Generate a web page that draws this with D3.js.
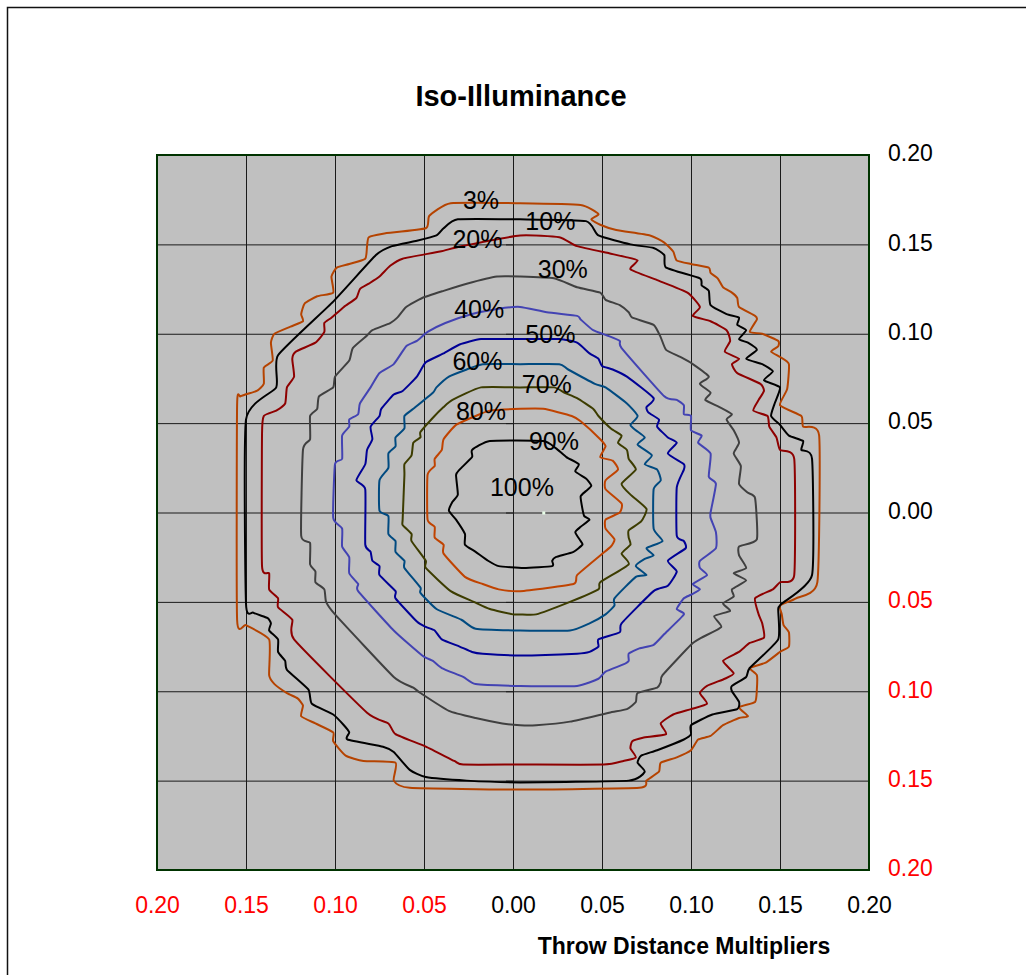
<!DOCTYPE html>
<html>
<head>
<meta charset="utf-8">
<script src="https://cdn.jsdelivr.net/npm/d3@7"></script>
<style>
  body { margin: 0; background: #fff; }
  svg { display: block; font-family: "Liberation Sans", Arial, sans-serif; }
</style>
</head>
<body>
<div id="chart"></div>
<script>

// ======================= //
// DATA
// ======================= //

// contour levels, outermost first
var levels = ["3%", "10%", "20%", "30%", "40%", "50%", "60%", "70%", "80%", "90%"]

// each contour = closed list of [x, y] points (throw distance multipliers)
var iso3 = [[0.004,0.173],[-0.035,0.173],[-0.047,0.166],[-0.049,0.159],[-0.073,0.156],[-0.081,0.154],[-0.082,0.149],[-0.083,0.142],[-0.092,0.139],[-0.099,0.137],[-0.102,0.132],[-0.101,0.123],[-0.110,0.121],[-0.117,0.117],[-0.119,0.111],[-0.118,0.107],[-0.125,0.104],[-0.134,0.100],[-0.136,0.095],[-0.135,0.085],[-0.140,0.081],[-0.140,0.072],[-0.144,0.068],[-0.153,0.065],[-0.155,0.060],
  [-0.155,-0.060],[-0.150,-0.063],[-0.137,-0.071],[-0.137,-0.091],[-0.134,-0.096],[-0.127,-0.101],[-0.121,-0.104],[-0.118,-0.108],[-0.119,-0.114],[-0.111,-0.118],[-0.101,-0.123],[-0.101,-0.128],[-0.094,-0.136],[-0.084,-0.139],[-0.066,-0.140],[-0.067,-0.150],[-0.058,-0.154],[0.004,-0.155],
  [0.071,-0.154],[0.075,-0.150],[0.082,-0.145],[0.083,-0.140],[0.092,-0.137],[0.100,-0.133],[0.104,-0.127],[0.111,-0.125],[0.118,-0.119],[0.127,-0.115],[0.132,-0.114],[0.127,-0.109],[0.136,-0.106],[0.137,-0.099],[0.137,-0.091],[0.133,-0.087],[0.142,-0.084],[0.150,-0.078],[0.155,-0.075],[0.155,-0.067],[0.152,-0.063],[0.151,-0.057],[0.150,-0.052],[0.159,-0.048],[0.171,-0.039],
  [0.172,0.043],[0.163,0.048],[0.162,0.054],[0.150,0.060],[0.154,0.069],[0.155,0.083],[0.150,0.087],[0.145,0.090],[0.149,0.093],[0.149,0.096],[0.140,0.100],[0.133,0.101],[0.137,0.108],[0.136,0.110],[0.127,0.115],[0.126,0.120],[0.123,0.123],[0.118,0.126],[0.115,0.131],[0.111,0.134],[0.110,0.137],[0.100,0.139],[0.092,0.141],[0.090,0.146],[0.085,0.151],[0.077,0.155],[0.058,0.158],[0.049,0.161],[0.044,0.164],[0.048,0.167],[0.038,0.172]]

var iso10 = [[0.004,0.164],[-0.031,0.164],[-0.039,0.159],[-0.043,0.155],[-0.054,0.152],[-0.068,0.149],[-0.077,0.144],[-0.101,0.118],[-0.132,0.088],[-0.133,0.070],[-0.150,0.052],
  [-0.150,-0.051],[-0.146,-0.056],[-0.138,-0.059],[-0.136,-0.062],[-0.137,-0.066],[-0.132,-0.071],[-0.132,-0.078],[-0.128,-0.083],[-0.127,-0.088],[-0.115,-0.099],[-0.113,-0.107],[-0.101,-0.113],[-0.095,-0.119],[-0.092,-0.123],[-0.093,-0.127],[-0.073,-0.131],[-0.067,-0.134],[-0.058,-0.144],[-0.049,-0.148],[-0.026,-0.150],[0.004,-0.151],
  [0.065,-0.150],[0.074,-0.145],[0.070,-0.140],[0.072,-0.136],[0.081,-0.133],[0.096,-0.127],[0.100,-0.124],[0.100,-0.119],[0.112,-0.113],[0.126,-0.110],[0.127,-0.106],[0.123,-0.100],[0.123,-0.097],[0.131,-0.092],[0.133,-0.087],[0.149,-0.071],[0.149,-0.054],[0.151,-0.051],[0.168,-0.035],
  [0.168,0.030],[0.162,0.035],[0.163,0.040],[0.155,0.043],[0.150,0.049],[0.145,0.054],[0.147,0.061],[0.150,0.070],[0.141,0.074],[0.146,0.079],[0.140,0.083],[0.131,0.086],[0.137,0.091],[0.132,0.095],[0.127,0.097],[0.131,0.102],[0.126,0.105],[0.127,0.109],[0.120,0.111],[0.111,0.116],[0.110,0.124],[0.106,0.127],[0.105,0.131],[0.086,0.137],[0.085,0.144],[0.079,0.148],[0.066,0.150],[0.048,0.155],[0.041,0.163]]

var iso20 = [[0.004,0.155],[-0.029,0.149],[-0.041,0.146],[-0.062,0.142],[-0.069,0.138],[-0.075,0.132],[-0.081,0.128],[-0.086,0.125],[-0.088,0.120],[-0.095,0.115],[-0.102,0.109],[-0.106,0.106],[-0.106,0.101],[-0.111,0.095],[-0.122,0.090],[-0.124,0.086],[-0.123,0.076],[-0.127,0.070],[-0.128,0.061],[-0.133,0.057],[-0.140,0.054],[-0.141,0.044],
  [-0.141,-0.030],[-0.137,-0.034],[-0.137,-0.043],[-0.132,-0.048],[-0.132,-0.053],[-0.124,-0.060],[-0.123,-0.071],[-0.082,-0.112],[-0.070,-0.118],[-0.066,-0.124],[-0.049,-0.131],[-0.033,-0.139],[-0.028,-0.141],[0.004,-0.141],
  [0.051,-0.141],[0.062,-0.139],[0.069,-0.137],[0.066,-0.132],[0.067,-0.128],[0.073,-0.126],[0.086,-0.124],[0.083,-0.118],[0.090,-0.113],[0.100,-0.110],[0.109,-0.107],[0.105,-0.101],[0.109,-0.097],[0.119,-0.093],[0.124,-0.090],[0.118,-0.083],[0.127,-0.078],[0.133,-0.073],[0.141,-0.070],[0.140,-0.062],[0.138,-0.057],[0.136,-0.048],[0.146,-0.043],[0.150,-0.039],[0.158,-0.035],
  [0.158,0.030],[0.150,0.035],[0.148,0.042],[0.144,0.048],[0.143,0.054],[0.135,0.057],[0.138,0.063],[0.141,0.068],[0.139,0.072],[0.126,0.078],[0.123,0.083],[0.127,0.086],[0.119,0.090],[0.122,0.096],[0.120,0.102],[0.111,0.107],[0.101,0.110],[0.105,0.115],[0.098,0.123],[0.081,0.130],[0.066,0.136],[0.070,0.141],[0.063,0.143],[0.054,0.145],[0.036,0.149],[0.026,0.154]]

var iso30 = [[0.004,0.132],[-0.009,0.132],[-0.026,0.128],[-0.039,0.124],[-0.051,0.120],[-0.060,0.115],[-0.065,0.109],[-0.069,0.106],[-0.079,0.102],[-0.082,0.099],[-0.090,0.092],[-0.092,0.085],[-0.100,0.076],[-0.101,0.070],[-0.109,0.065],[-0.110,0.058],[-0.114,0.054],[-0.114,0.041],[-0.118,0.035],
  [-0.119,-0.013],[-0.114,-0.017],[-0.114,-0.029],[-0.111,-0.033],[-0.111,-0.039],[-0.106,-0.043],[-0.105,-0.050],[-0.100,-0.057],[-0.067,-0.092],[-0.056,-0.098],[-0.052,-0.101],[-0.036,-0.111],[-0.021,-0.115],[-0.006,-0.118],[0.004,-0.119],
  [0.013,-0.119],[0.032,-0.117],[0.054,-0.112],[0.064,-0.110],[0.069,-0.106],[0.070,-0.101],[0.081,-0.098],[0.083,-0.095],[0.084,-0.091],[0.100,-0.074],[0.106,-0.070],[0.117,-0.064],[0.113,-0.058],[0.122,-0.055],[0.118,-0.051],[0.124,-0.047],[0.123,-0.043],[0.131,-0.038],[0.124,-0.034],[0.131,-0.031],[0.127,-0.024],[0.127,-0.019],[0.137,-0.015],
  [0.136,0.008],[0.132,0.011],[0.127,0.016],[0.128,0.026],[0.124,0.033],[0.127,0.039],[0.124,0.046],[0.120,0.052],[0.123,0.055],[0.116,0.059],[0.108,0.063],[0.111,0.067],[0.105,0.072],[0.110,0.076],[0.101,0.083],[0.094,0.087],[0.086,0.091],[0.083,0.098],[0.079,0.105],[0.067,0.109],[0.065,0.112],[0.060,0.116],[0.052,0.119],[0.049,0.123],[0.036,0.126],[0.023,0.131]]

var iso40 = [[0.004,0.115],[-0.008,0.114],[-0.023,0.111],[-0.038,0.106],[-0.048,0.101],[-0.054,0.096],[-0.060,0.093],[-0.067,0.083],[-0.075,0.078],[-0.080,0.070],[-0.086,0.061],[-0.087,0.055],[-0.092,0.052],[-0.092,0.048],[-0.096,0.043],[-0.096,0.030],[-0.100,0.027],
  [-0.101,-0.003],[-0.096,-0.009],[-0.096,-0.019],[-0.092,-0.025],[-0.092,-0.034],[-0.087,-0.040],[-0.087,-0.044],[-0.067,-0.066],[-0.051,-0.080],[-0.045,-0.083],[-0.040,-0.087],[-0.028,-0.092],[-0.021,-0.096],[0.004,-0.097],
  [0.036,-0.097],[0.048,-0.093],[0.052,-0.089],[0.062,-0.085],[0.065,-0.083],[0.065,-0.079],[0.071,-0.076],[0.079,-0.074],[0.085,-0.068],[0.096,-0.057],[0.092,-0.054],[0.096,-0.048],[0.100,-0.046],[0.105,-0.043],[0.101,-0.040],[0.109,-0.035],[0.105,-0.031],[0.105,-0.027],[0.114,-0.020],[0.114,-0.011],[0.111,-0.003],[0.111,0.000],
  [0.114,0.016],[0.110,0.020],[0.111,0.033],[0.104,0.039],[0.106,0.043],[0.100,0.046],[0.100,0.054],[0.096,0.055],[0.096,0.060],[0.092,0.063],[0.085,0.065],[0.061,0.092],[0.060,0.096],[0.053,0.099],[0.045,0.102],[0.038,0.108],[0.036,0.110],[0.019,0.112]]

var iso50 = [[0.004,0.097],[-0.018,0.097],[-0.030,0.094],[-0.039,0.089],[-0.049,0.084],[-0.054,0.076],[-0.062,0.068],[-0.067,0.066],[-0.074,0.058],[-0.075,0.054],[-0.080,0.048],[-0.079,0.041],[-0.082,0.035],[-0.083,0.027],[-0.088,0.018],[-0.083,0.013],
  [-0.083,-0.018],[-0.080,-0.022],[-0.079,-0.027],[-0.075,-0.030],[-0.075,-0.035],[-0.066,-0.044],[-0.066,-0.048],[-0.054,-0.061],[-0.049,-0.064],[-0.044,-0.066],[-0.040,-0.071],[-0.030,-0.075],[-0.023,-0.078],[-0.017,-0.079],[0.004,-0.080],
  [0.036,-0.079],[0.043,-0.078],[0.048,-0.075],[0.048,-0.071],[0.060,-0.067],[0.061,-0.062],[0.079,-0.044],[0.087,-0.041],[0.092,-0.033],[0.087,-0.027],[0.097,-0.020],[0.096,-0.016],[0.092,-0.013],
  [0.092,0.014],[0.096,0.024],[0.096,0.027],[0.087,0.033],[0.092,0.039],[0.087,0.042],[0.081,0.048],[0.082,0.052],[0.076,0.056],[0.075,0.059],[0.079,0.064],[0.064,0.076],[0.056,0.080],[0.050,0.082],[0.048,0.086],[0.043,0.089],[0.036,0.095],[0.026,0.097]]

var iso60 = [[0.004,0.083],[-0.017,0.083],[-0.026,0.080],[-0.036,0.076],[-0.043,0.070],[-0.045,0.067],[-0.056,0.058],[-0.061,0.054],[-0.061,0.047],[-0.066,0.042],[-0.066,0.037],[-0.070,0.033],[-0.070,0.025],[-0.075,0.018],[-0.075,0.001],
  [-0.070,-0.002],[-0.070,-0.012],[-0.066,-0.016],[-0.066,-0.022],[-0.061,-0.027],[-0.061,-0.031],[-0.052,-0.042],[-0.052,-0.045],[-0.043,-0.054],[-0.029,-0.060],[-0.021,-0.065],[0.004,-0.066],
  [0.032,-0.066],[0.043,-0.062],[0.052,-0.057],[0.057,-0.052],[0.057,-0.048],[0.069,-0.036],[0.075,-0.035],[0.069,-0.030],[0.074,-0.026],[0.079,-0.024],[0.075,-0.020],[0.084,-0.016],[0.079,-0.009],
  [0.079,0.013],[0.083,0.018],[0.081,0.024],[0.074,0.027],[0.078,0.032],[0.070,0.038],[0.074,0.042],[0.069,0.046],[0.066,0.049],[0.070,0.054],[0.064,0.061],[0.052,0.070],[0.046,0.072],[0.031,0.080],[0.026,0.083]]

var iso70 = [[0.004,0.070],[-0.018,0.070],[-0.034,0.063],[-0.039,0.059],[-0.045,0.053],[-0.052,0.045],[-0.052,0.042],[-0.056,0.039],[-0.057,0.032],[-0.061,0.027],[-0.061,0.021],[-0.062,-0.004],[-0.062,-0.007],[-0.057,-0.012],[-0.057,-0.016],[-0.049,-0.027],[-0.049,-0.031],[-0.035,-0.044],[-0.022,-0.050],[-0.013,-0.054],[0.000,-0.057],[0.004,-0.057],
  [0.013,-0.057],[0.032,-0.050],[0.048,-0.043],[0.049,-0.039],[0.065,-0.029],[0.061,-0.023],[0.066,-0.018],[0.065,-0.014],[0.065,-0.010],[0.072,-0.005],[0.075,0.002],[0.066,0.010],[0.061,0.016],[0.069,0.024],[0.065,0.030],[0.064,0.035],[0.059,0.039],[0.061,0.043],[0.055,0.047],[0.048,0.054],[0.045,0.058],[0.036,0.064],[0.029,0.067],[0.023,0.070]]

var iso80 = [[0.004,0.058],[-0.013,0.057],[-0.021,0.054],[-0.032,0.049],[-0.039,0.041],[-0.040,0.035],[-0.044,0.030],[-0.044,0.026],[-0.048,0.021],[-0.048,-0.004],[-0.044,-0.008],[-0.044,-0.014],[-0.039,-0.018],[-0.039,-0.023],[-0.027,-0.036],[-0.017,-0.040],[-0.008,-0.043],[0.004,-0.044],
  [0.034,-0.040],[0.036,-0.035],[0.049,-0.024],[0.055,-0.019],[0.057,-0.015],[0.052,-0.009],[0.052,-0.004],[0.060,0.000],[0.061,0.005],[0.052,0.013],[0.052,0.018],[0.059,0.024],[0.056,0.029],[0.049,0.031],[0.052,0.037],[0.049,0.041],[0.038,0.051],[0.033,0.054],[0.017,0.058]]

var iso90 = [[-0.013,0.040],[0.017,0.040],[0.024,0.036],[0.030,0.031],[0.037,0.027],[0.035,0.023],[0.041,0.019],[0.044,0.015],[0.041,0.012],[0.038,0.009],[0.039,0.002],[0.040,-0.002],[0.043,-0.004],[0.038,-0.008],[0.035,-0.011],[0.038,-0.016],[0.039,-0.018],[0.034,-0.022],[0.024,-0.025],[0.022,-0.027],[0.022,-0.030],[0.006,-0.031],[-0.008,-0.030],[-0.014,-0.027],[-0.021,-0.022],[-0.027,-0.018],[-0.027,-0.012],[-0.032,-0.004],[-0.036,0.001],[-0.034,0.006],[-0.031,0.010],[-0.032,0.021],[-0.030,0.024],[-0.023,0.031],[-0.023,0.035]]

var contours = [iso3, iso10, iso20, iso30, iso40, iso50, iso60, iso70, iso80, iso90]

// label anchors (data units)
var labelX = [-0.018, 0.021, -0.020, 0.028, -0.019, 0.021, -0.020, 0.019, -0.018, 0.023]
var labelY = [ 0.175, 0.163,  0.153, 0.136,  0.114, 0.100,  0.085, 0.072,  0.057, 0.040]

// 100% = single point
var peakLabel = "100%"
var peakLabelPos = [0.005, 0.014]
var peakPoint = [0.017, 0.0]

// axis ticks
var tickVals = [-0.20, -0.15, -0.10, -0.05, 0.00, 0.05, 0.10, 0.15, 0.20]

var lineColors = ["#b54300", "#000000", "#8e0000", "#404040", "#4343b3", "#000096", "#004a80", "#3c3c00", "#c04300", "#000000"]


// ======================= //
// SVG, SCALES
// ======================= //

var W = 1026, H = 975
var margin = {top: 155, right: 157, bottom: 105, left: 157},
    width = 869 - 157,
    height = 870 - 155;

var root = d3.select("#chart")
  .append("svg")
    .attr("width", W)
    .attr("height", H)

// outer frame (runs off right / bottom)
root.append("rect")
  .attr("x", 7.5).attr("y", 7.5)
  .attr("width", W + 20).attr("height", H + 20)
  .attr("fill", "none")
  .attr("stroke", "#111")
  .attr("stroke-width", 1.5)

var svg = root.append("g")
  .attr("transform", "translate(" + margin.left + "," + margin.top + ")")

var x = d3.scaleLinear().domain([-0.2, 0.2]).range([0, width])
var y = d3.scaleLinear().domain([-0.2, 0.2]).range([height, 0])

// plot background
svg.append("rect")
  .attr("width", width).attr("height", height)
  .attr("fill", "#c0c0c0")


// ======================= //
// GRID
// ======================= //

svg.append("g")
  .attr("transform", "translate(0," + height + ")")
  .call(d3.axisBottom(x).tickValues(tickVals).tickSize(-height).tickFormat(""))
  .call(function(g){ g.select(".domain").remove() })
  .selectAll("line").attr("stroke", "#1a1a1a").attr("stroke-width", 1)

svg.append("g")
  .call(d3.axisLeft(y).tickValues(tickVals).tickSize(-width).tickFormat(""))
  .call(function(g){ g.select(".domain").remove() })
  .selectAll("line").attr("stroke", "#1a1a1a").attr("stroke-width", 1)

// small ticks on the centre axis
svg.append("g")
  .attr("transform", "translate(" + x(0) + ",0)")
  .call(d3.axisLeft(y).tickValues(tickVals).tickSize(7).tickFormat(""))
  .call(function(g){ g.select(".domain").remove() })
  .selectAll("line").attr("stroke", "#1a1a1a")


// ======================= //
// CONTOURS
// ======================= //

// gentle smoothing, like the spreadsheet's smoothed lines
var line = d3.line()
  .x(function(d){ return x(d[0]) })
  .y(function(d){ return y(d[1]) })
  .curve(d3.curveCardinalClosed.tension(0.5))

svg.append("g")
  .selectAll("path")
  .data(contours)
  .enter()
  .append("path")
    .attr("d", line)
    .attr("fill", "none")
    .attr("stroke", function(d, i){ return lineColors[i] })
    .attr("stroke-width", 2)
    .attr("stroke-linejoin", "round")

// 100% point
svg.append("rect")
  .attr("x", x(peakPoint[0]) - 1)
  .attr("y", y(peakPoint[1]) - 1)
  .attr("width", 3).attr("height", 3)
  .attr("fill", "#eaffea")

// level labels
svg.selectAll("levelLabels")
  .data(levels)
  .enter()
  .append("text")
    .attr("x", function(d, i){ return x(labelX[i]) })
    .attr("y", function(d, i){ return y(labelY[i]) })
    .attr("dy", "0.36em")
    .attr("text-anchor", "middle")
    .style("font-size", "25px")
    .style("fill", "#000")
    .text(function(d){ return d })

svg.append("text")
  .attr("x", x(peakLabelPos[0]))
  .attr("y", y(peakLabelPos[1]))
  .attr("dy", "0.36em")
  .attr("text-anchor", "middle")
  .style("font-size", "25px")
  .text(peakLabel)

// plot frame
svg.append("rect")
  .attr("width", width).attr("height", height)
  .attr("fill", "none")
  .attr("stroke", "#003300")
  .attr("stroke-width", 2)


// ======================= //
// AXES LABELS
// ======================= //

var fmt = function(d){ return Math.abs(d).toFixed(2) }
var labColor = function(d){ return d < -1e-9 ? "#ff0000" : "#000" }

var xAxis = svg.append("g")
  .attr("transform", "translate(0," + height + ")")
  .call(d3.axisBottom(x).tickValues(tickVals).tickSize(0).tickPadding(27).tickFormat(fmt))
xAxis.select(".domain").remove()
xAxis.selectAll("text")
  .style("font-size", "23px")
  .style("font-family", "'Liberation Sans', Arial, sans-serif")
  .attr("fill", labColor)

var yAxis = svg.append("g")
  .attr("transform", "translate(" + width + ",0)")
  .call(d3.axisRight(y).tickValues(tickVals).tickSize(0).tickPadding(19).tickFormat(fmt))
yAxis.select(".domain").remove()
yAxis.selectAll("text")
  .style("font-size", "23px")
  .style("font-family", "'Liberation Sans', Arial, sans-serif")
  .attr("dy", "0.25em")
  .attr("fill", labColor)

// Title
root.append("text")
  .attr("x", 521)
  .attr("y", 106)
  .attr("text-anchor", "middle")
  .style("font-size", "29px")
  .style("font-weight", "bold")
  .text("Iso-Illuminance")

// X title
root.append("text")
  .attr("x", 684)
  .attr("y", 954)
  .attr("text-anchor", "middle")
  .style("font-size", "23px")
  .style("font-weight", "bold")
  .text("Throw Distance Multipliers")

</script>
</body>
</html>
